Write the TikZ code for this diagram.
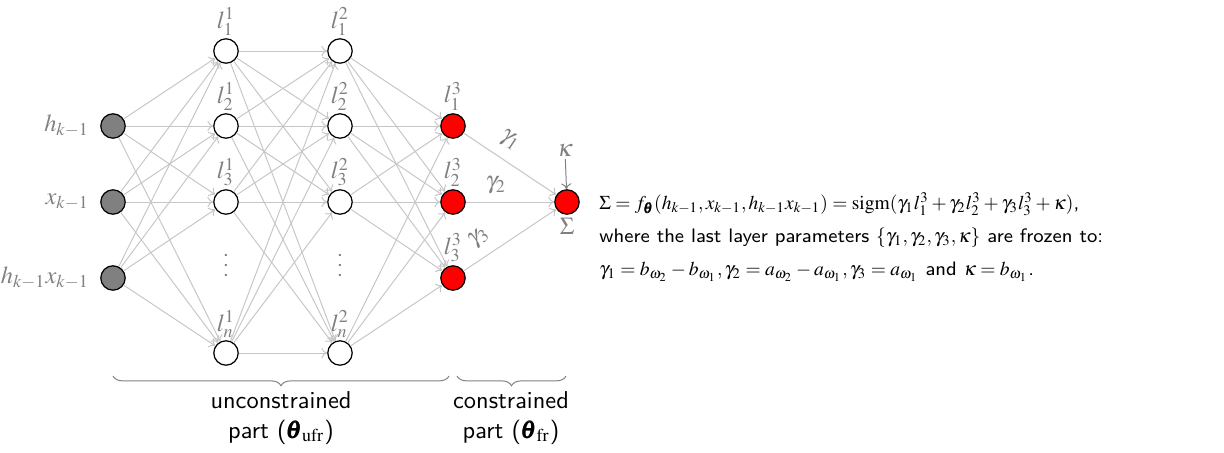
\documentclass[tikz,border=0pt]{standalone}
\usepackage{amsmath}
\usepackage{mathptmx}
\renewcommand{\familydefault}{\sfdefault}
\usetikzlibrary{decorations.pathreplacing,positioning,arrows.meta}
\begin{document}
\begin{tikzpicture}[x=0.41pt,y=-0.41pt,
  neuron/.style={circle,draw=black,line width=0.5pt,minimum size=10pt,inner sep=0pt},
  innode/.style={neuron,fill=gray},
  hidnode/.style={neuron,fill=white},
  outnode/.style={neuron,fill=red},
  lab/.style={text=gray,inner sep=1pt},
  edge/.style={draw=gray!45,line width=0.4pt,-{To[length=2.4pt,width=4.2pt]}},
  brc/.style={draw=gray,line width=0.4pt,decorate,decoration={brace,mirror,amplitude=4pt}},
  eqn/.style={anchor=west,inner sep=0pt,font=\fontsize{8}{10}\selectfont}]
\useasboundingbox (0,0) rectangle (1224,452);
% inputs
\node[innode] (i1) at (113,126) {};
\node[innode] (i2) at (113,202) {};
\node[innode] (i3) at (113,278) {};
\node[lab,anchor=east] (t1) at (92,126) {$h_{k-1}$};
\node[lab,anchor=east] (t2) at (92,202) {$x_{k-1}$};
\node[lab,anchor=east] (t3) at (92,278) {$h_{k-1}x_{k-1}$};
% layer 1
\node[hidnode,label={[lab]above:$l_1^1$}] (a1) at (226,51) {};
\node[hidnode,label={[lab]above:$l_2^1$}] (a2) at (226,126) {};
\node[hidnode,label={[lab]above:$l_3^1$}] (a3) at (226,202) {};
\node[hidnode,label={[lab]above:$l_n^1$}] (a4) at (226,353) {};
\node[lab] (d1) at (226,258) {$\vdots$};
% layer 2
\node[hidnode,label={[lab]above:$l_1^2$}] (b1) at (340,51) {};
\node[hidnode,label={[lab]above:$l_2^2$}] (b2) at (340,126) {};
\node[hidnode,label={[lab]above:$l_3^2$}] (b3) at (340,202) {};
\node[hidnode,label={[lab]above:$l_n^2$}] (b4) at (340,353) {};
\node[lab] (d2) at (340,258) {$\vdots$};
% layer 3
\node[outnode,label={[lab]above:$l_1^3$}] (c1) at (453,126) {};
\node[outnode,label={[lab]above:$l_2^3$}] (c2) at (453,202) {};
\node[outnode,label={[lab]above:$l_3^3$}] (c3) at (453,278) {};
% output
\node[outnode,label={[lab]below:$\Sigma$}] (s) at (567,202) {};
\node[lab] (k) at (565,150) {$\kappa$};
% edges
\foreach \i in {i1,i2,i3}{\foreach \j in {a1,a2,a3,a4}{\draw[edge] (\i) -- (\j);}}
\foreach \i in {a1,a2,a3,a4}{\foreach \j in {b1,b2,b3,b4}{\draw[edge] (\i) -- (\j);}}
\foreach \i in {b1,b2,b3,b4}{\foreach \j in {c1,c2,c3}{\draw[edge] (\i) -- (\j);}}
\draw[edge] (c1) -- node[lab,pos=0.38,sloped,above=3pt] {$\gamma_1$} (s);
\draw[edge] (c2) -- node[lab,pos=0.34,above=2pt] {$\gamma_2$} (s);
\draw[edge] (c3) -- node[lab,pos=0.28,sloped,above=3pt] {$\gamma_3$} (s);
\draw[edge,draw=gray] (k) -- (s);
% braces
\coordinate (u1) at (113,376);
\coordinate (u2) at (449,376);
\coordinate (v1) at (457,376);
\coordinate (v2) at (566,376);
\draw[brc] (u1) -- (u2);
\draw[brc] (v1) -- (v2);
\node[align=center] (ut) at (281,418) {unconstrained\\part ($\pmb{\theta}_{\mathrm{ufr}}$)};
\node[align=center] (ct) at (511,418) {constrained\\part ($\pmb{\theta}_{\mathrm{fr}}$)};
% equation
\node[eqn] (e1) at (599,204) {$\Sigma = f_{\pmb{\theta}}(h_{k-1}, x_{k-1}, h_{k-1}x_{k-1}) = \mathrm{sigm}(\gamma_1 l_1^3 + \gamma_2 l_2^3 + \gamma_3 l_3^3 + \kappa)$,};
\node[eqn] (e2) at (599,238) {where the last layer parameters $\{\gamma_1,\gamma_2,\gamma_3,\kappa\}$ are frozen to:};
\node[eqn] (e3) at (599,272) {$\gamma_1 = b_{\omega_2} - b_{\omega_1}, \gamma_2 = a_{\omega_2} - a_{\omega_1}, \gamma_3 = a_{\omega_1}$ and $\kappa = b_{\omega_1}$.};
\end{tikzpicture}
\end{document}
